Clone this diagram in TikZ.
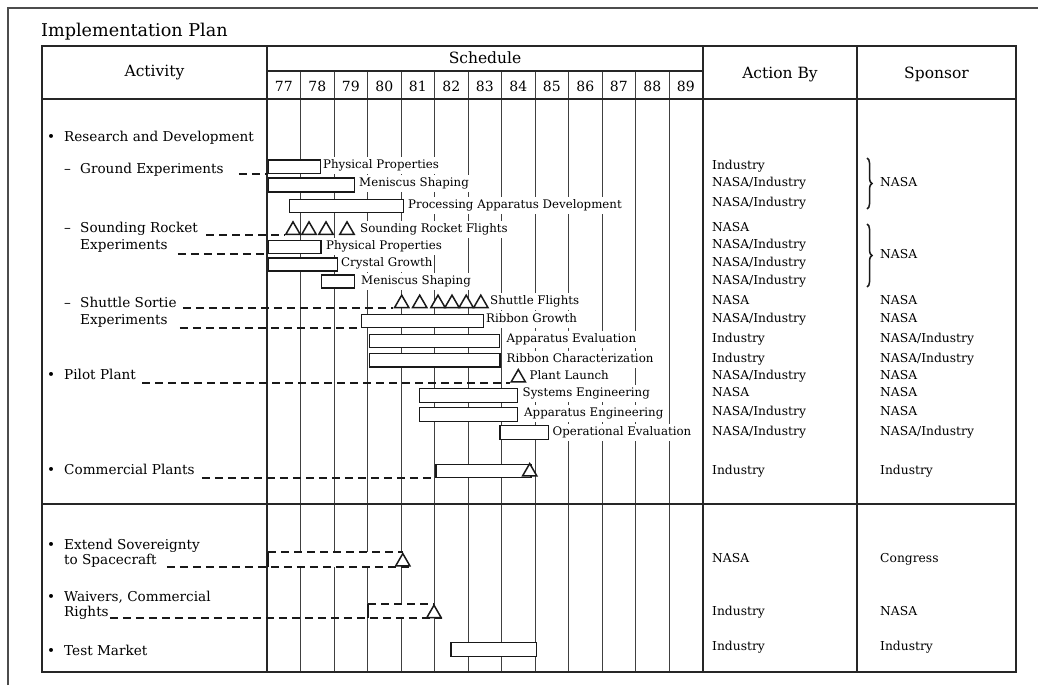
\documentclass[tikz,border=0pt]{standalone}
\usepackage{fontspec}
\setmainfont{DejaVu Serif}
\usetikzlibrary{shapes.geometric,decorations.pathreplacing}
\pgfdeclarelayer{gridlayer}
\pgfsetlayers{gridlayer,main}
\newcommand{\gbar}[5]{\node[bar, anchor=north west, minimum width={(#3)-(#2)}, minimum height={(#5)-(#4)}] (#1) at (#2,#4) {};}
\newcommand{\gtri}[3]{\node[tri, anchor=south] (#1) at (#2,#3) {};}
\begin{document}
\begin{tikzpicture}[x=1pt,y=-1pt,
  grid/.style={draw=black!75, line width=0.9pt},
  frame/.style={draw=black!85, line width=1.7pt},
  bar/.style={draw=black!90, line width=1.8pt, fill=white, inner sep=0pt},
  tri/.style={regular polygon, regular polygon sides=3, minimum size=16.5pt, inner sep=0pt, draw=black!90, line width=1.5pt, fill=white},
  dsh/.style={draw=black!90, line width=1.8pt, dash pattern=on 8pt off 5pt},
  blab/.style={anchor=west, fill=white, inner xsep=1pt, inner ysep=3pt, text height=8.5pt, text depth=2.5pt, font=\fontsize{11.8}{12}\selectfont},
  act/.style={anchor=west, inner sep=0pt, text height=9.5pt, text depth=3pt, font=\fontsize{13.6}{14}\selectfont},
  col/.style={anchor=west, inner sep=0pt, text height=8.5pt, text depth=2.5pt, font=\fontsize{12.3}{13}\selectfont},
  hdr/.style={anchor=base, inner sep=0pt, font=\fontsize{15.5}{16}\selectfont},
  yr/.style={anchor=base, inner sep=0pt, font=\fontsize{14}{15}\selectfont},
]
\useasboundingbox (0,0) rectangle (1038,685);

% grid layer
\begin{pgfonlayer}{gridlayer}
\foreach \i in {1,...,12} \draw[grid] ({267+33.5*\i},71) -- ({267+33.5*\i},672);
\fill[white] (268,551.7) rectangle (402,566.7);
\fill[white] (368,605) rectangle (434,618.3);
\end{pgfonlayer}

% outer frame
\draw[draw=black!70, line width=1.2pt] (8,685) -- (8,8) -- (1038,8);
\node[anchor=base west, inner sep=0pt, font=\fontsize{17.6}{18}\selectfont] (title) at (41,36.5) {Implementation Plan};

% table
\draw[frame] (42,46) rectangle (1016,672);
\draw[frame] (42,99) -- (1016,99);
\draw[frame] (42,504) -- (1016,504);
\draw[frame] (267,46) -- (267,672);
\draw[frame] (703,46) -- (703,672);
\draw[draw=black!85, line width=1.2pt] (857,46) -- (857,672);
\draw[draw=black!85, line width=1.2pt] (267,71) -- (703,71);

% headers
\node[hdr] (hAct) at (154.5,77) {Activity};
\node[hdr] (hSch) at (485,63.5) {Schedule};
\node[hdr] (hAB) at (780,78) {Action By};
\node[hdr] (hSp) at (936.5,78) {Sponsor};
\foreach \k [count=\i from 0] in {77,...,89} \node[yr] (y\k) at ({267+33.5*(\i+0.5)},91.5) {\k};

% activity column
\node[act] (a1) at (47,138) {\makebox[17pt][l]{•}Research and Development};
\node[act] (a2) at (64,170.5) {\makebox[16pt][l]{–}Ground Experiments};
\node[act] (a3) at (64,229) {\makebox[16pt][l]{–}Sounding Rocket};
\node[act] (a3b) at (80,246.5) {Experiments};
\node[act] (a4) at (64,304) {\makebox[16pt][l]{–}Shuttle Sortie};
\node[act] (a4b) at (80,321.5) {Experiments};
\node[act] (a5) at (47,376) {\makebox[17pt][l]{•}Pilot Plant};
\node[act] (a6) at (47,471.5) {\makebox[17pt][l]{•}Commercial Plants};
\node[act] (a7) at (47,546.5) {\makebox[17pt][l]{•}Extend Sovereignty};
\node[act] (a7b) at (64,561.5) {to Spacecraft};
\node[act] (a8) at (47,598.3) {\makebox[17pt][l]{•}Waivers, Commercial};
\node[act] (a8b) at (64,613.3) {Rights};
\node[act] (a9) at (47,652.7) {\makebox[17pt][l]{•}Test Market};

% bar labels
\node[blab] (l1) at (322,165) {Physical Properties};
\node[blab] (l2) at (358,183) {Meniscus Shaping};
\node[blab] (l3) at (407,205) {Processing Apparatus Development};
\node[blab] (l4) at (359,229) {Sounding Rocket Flights};
\node[blab] (l5) at (325,246) {Physical Properties};
\node[blab] (l6) at (340,263) {Crystal Growth};
\node[blab] (l7) at (360,281.5) {Meniscus Shaping};
\node[blab] (l8) at (489,301.5) {Shuttle Flights};
\node[blab] (l9) at (485,319.5) {Ribbon Growth};
\node[blab] (l10) at (505.5,339) {Apparatus Evaluation};
\node[blab] (l11) at (505.5,359) {Ribbon Characterization};
\node[blab] (l12) at (528.5,376) {Plant Launch};
\node[blab] (l13) at (521.5,393.5) {Systems Engineering};
\node[blab] (l14) at (523,413) {Apparatus Engineering};
\node[blab] (l15) at (551.5,432) {Operational Evaluation};

% bars
\gbar{ge1}{267.5}{319.5}{159}{172.5}
\gbar{ge2}{267.5}{353.5}{177}{191}
\gbar{ge3}{288.5}{402.5}{198.5}{211.5}
\gbar{sr1}{267.5}{320}{239.5}{252.5}
\gbar{sr2}{267.5}{336.5}{257}{270}
\gbar{sr3}{320.5}{353.5}{274}{287}
\gbar{ss1}{360.5}{482.5}{313.5}{326.5}
\gbar{ss2}{368.5}{498.5}{333.5}{346.5}
\gbar{ss3}{368.5}{499}{352.5}{366}
\gbar{pp1}{418.5}{516.5}{387.5}{401.5}
\gbar{pp2}{418.5}{516.5}{406.5}{420.5}
\gbar{pp3}{499}{547.5}{424.5}{438.5}
\gbar{cp}{435}{530}{463.5}{476.5}
\gbar{tm}{450}{535.5}{641.5}{655.5}

% triangles
\gtri{rt1}{293}{235}
\gtri{rt2}{309}{235}
\gtri{rt3}{326}{235}
\gtri{rt4}{347}{235}
\gtri{st1}{401.7}{308.3}
\gtri{st2}{419.7}{308.3}
\gtri{st3}{438}{308.3}
\gtri{st4}{452}{308.3}
\gtri{st5}{466.2}{308.3}
\gtri{st6}{480.8}{308.3}
\gtri{pl}{518.3}{382.7}
\gtri{cpt}{529.7}{476.7}
\gtri{es}{402.8}{566.7}
\gtri{wv}{434}{618.3}

% connectors
\coordinate (d2) at ([xshift=15pt]a2.east);
\coordinate (d3) at ([xshift=8pt]a3.east);
\coordinate (d3b) at ([xshift=10pt]a3b.east);
\coordinate (d4) at ([xshift=6pt]a4.east);
\coordinate (d4b) at ([xshift=12pt]a4b.east);
\coordinate (d5) at ([xshift=6pt]a5.east);
\coordinate (d6) at ([xshift=7pt]a6.east);
\coordinate (d7) at ([xshift=10pt]a7b.east);
\coordinate (d8) at ([xshift=1pt]a8b.east);
\coordinate (esx) at (268,0);
\coordinate (wvx) at (368,0);
\draw[dsh] (d2 |- ge1.south west) -- (ge1.south west);
\draw[dsh] (d3 |- rt1.corner 2) -- (rt1.corner 2);
\draw[dsh] (d3b |- sr1.south west) -- (sr1.south west);
\draw[dsh] (d4 |- st1.corner 2) -- (st1.corner 2);
\draw[dsh] (d4b |- ss1.south west) -- (ss1.south west);
\draw[dsh] (d5 |- pl.corner 2) -- (pl.corner 2);
\draw[dsh] (d6 |- cp.south west) -- (cp.south west);
\draw[dsh] (d7 |- es.corner 3) -- (es.corner 3);
\draw[dsh] (esx |- es.corner 1) -- (es.corner 1);
\draw[draw=black!90, line width=1.6pt] (esx |- es.corner 1) -- (esx |- es.corner 3);
\draw[dsh] (d8 |- wv.corner 3) -- (wv.corner 3);
\draw[dsh] (wvx |- wv.corner 1) -- (wv.corner 1);
\draw[draw=black!90, line width=1.6pt] (wvx |- wv.corner 1) -- (wvx |- wv.corner 3);

% action by column
\node[col] (r1) at (712,166) {Industry};
\node[col] (r2) at (712,183) {NASA/Industry};
\node[col] (r3) at (712,203.5) {NASA/Industry};
\node[col] (r4) at (712,228.5) {NASA};
\node[col] (r5) at (712,245.7) {NASA/Industry};
\node[col] (r6) at (712,263.3) {NASA/Industry};
\node[col] (r7) at (712,281.7) {NASA/Industry};
\node[col] (r8) at (712,301.7) {NASA};
\node[col] (r9) at (712,319.3) {NASA/Industry};
\node[col] (r10) at (712,339.3) {Industry};
\node[col] (r11) at (712,359.3) {Industry};
\node[col] (r12) at (712,376.7) {NASA/Industry};
\node[col] (r13) at (712,393.3) {NASA};
\node[col] (r14) at (712,412.7) {NASA/Industry};
\node[col] (r15) at (712,432.7) {NASA/Industry};
\node[col] (r16) at (712,471.7) {Industry};
\node[col] (r17) at (712,559) {NASA};
\node[col] (r18) at (712,612.7) {Industry};
\node[col] (r19) at (712,647.7) {Industry};

% sponsor column
\draw[draw=black!90, line width=1.5pt, decorate, decoration={brace, amplitude=5pt}] (867,158) -- (867,209);
\draw[draw=black!90, line width=1.5pt, decorate, decoration={brace, amplitude=5pt}] (867,224) -- (867,287);
\node[col] (s1) at (880,183) {NASA};
\node[col] (s2) at (880,255.7) {NASA};
\node[col] (s8) at (880,301.7) {NASA};
\node[col] (s9) at (880,319.3) {NASA};
\node[col] (s10) at (880,339.3) {NASA/Industry};
\node[col] (s11) at (880,359.3) {NASA/Industry};
\node[col] (s12) at (880,376.7) {NASA};
\node[col] (s13) at (880,393.3) {NASA};
\node[col] (s14) at (880,412.7) {NASA};
\node[col] (s15) at (880,432.7) {NASA/Industry};
\node[col] (s16) at (880,471.7) {Industry};
\node[col] (s17) at (880,559) {Congress};
\node[col] (s18) at (880,612.7) {NASA};
\node[col] (s19) at (880,647.7) {Industry};
\end{tikzpicture}
\end{document}
